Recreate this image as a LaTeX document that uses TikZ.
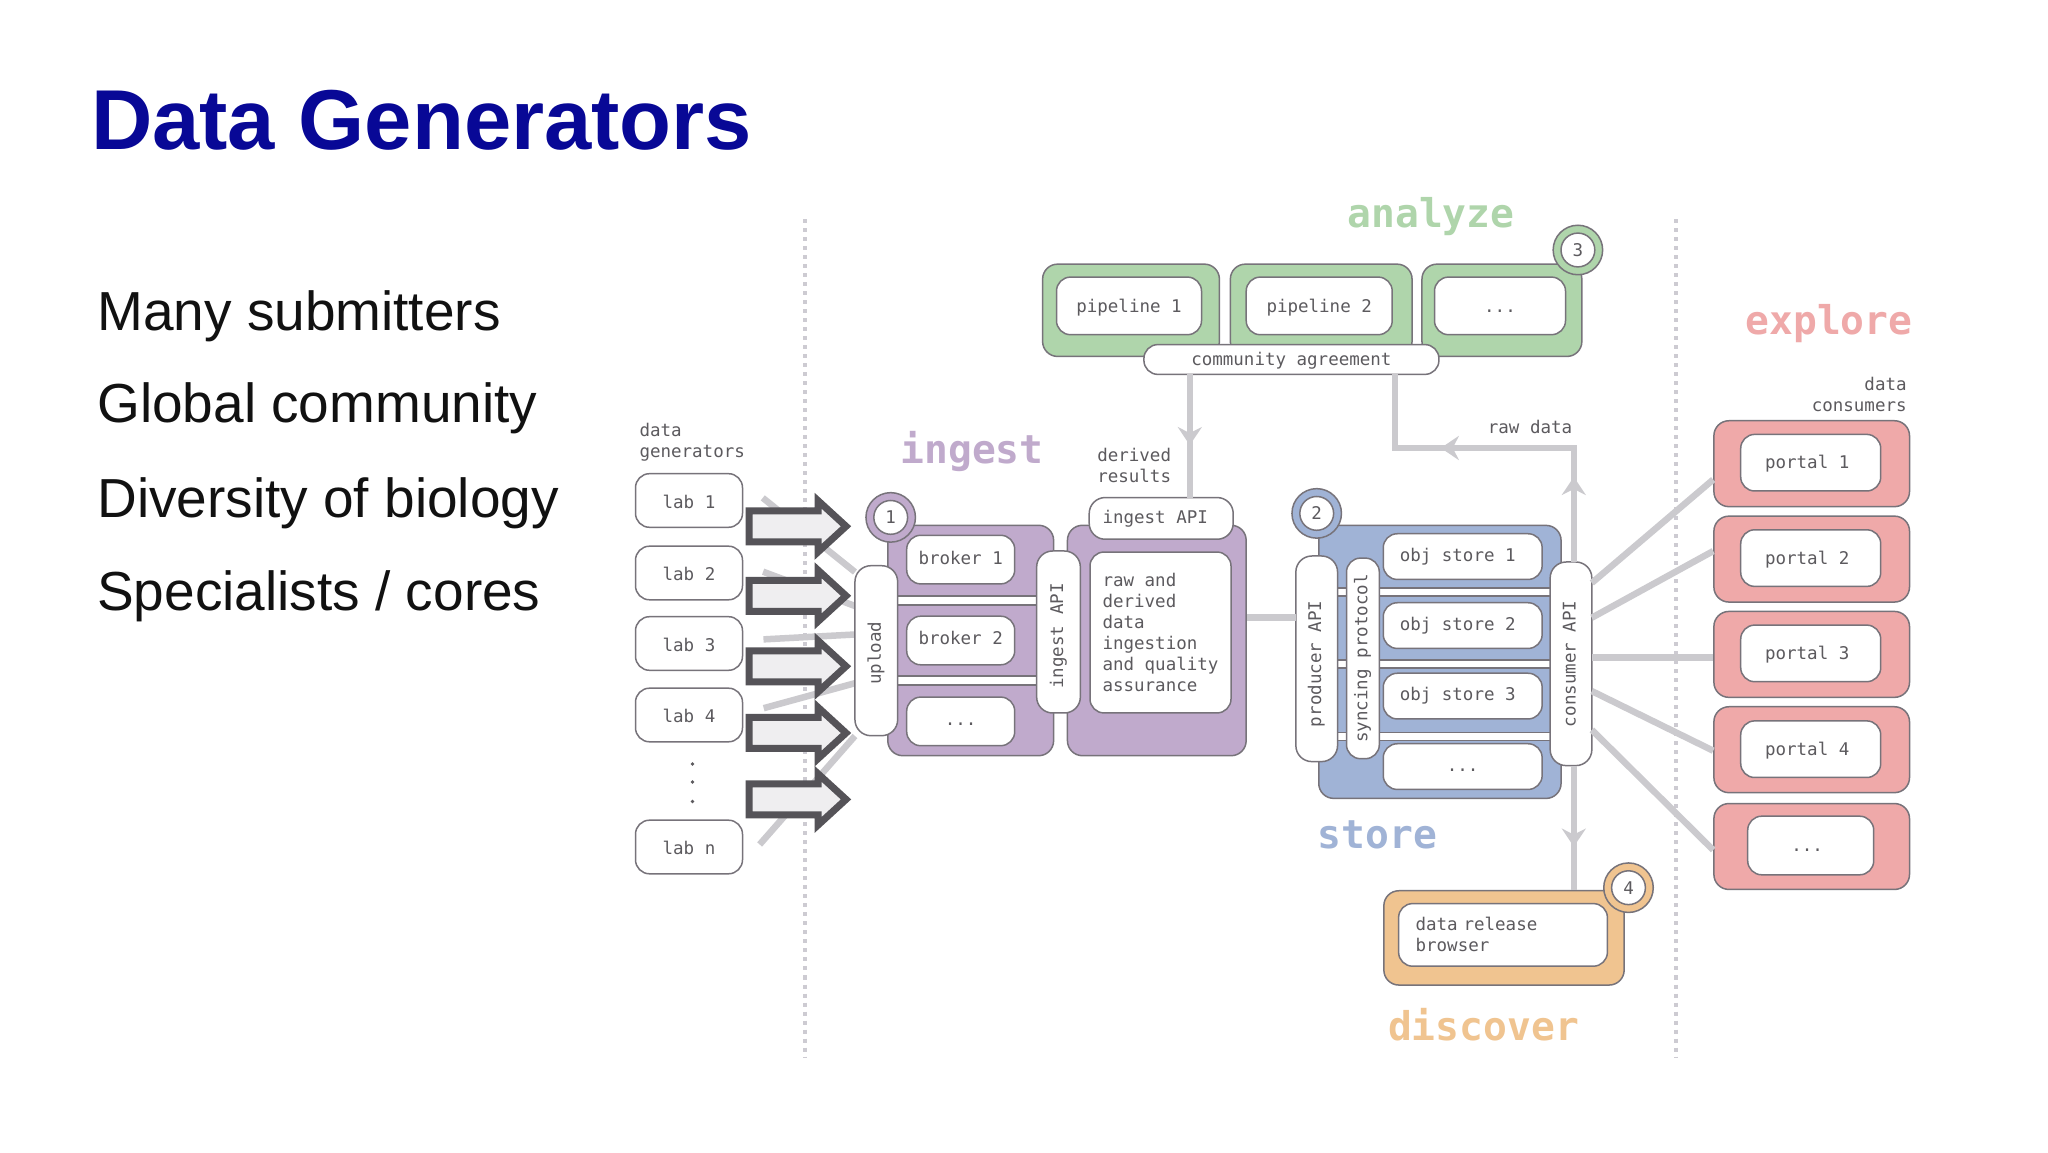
\documentclass[tikz,border=0pt]{standalone}
\usepackage{fontspec}
\setmainfont{Liberation Sans}
\newfontfamily\monofont{DejaVu Sans Mono}
\usetikzlibrary{arrows.meta,decorations.markings,shapes.arrows}
\newcommand{\monoSmall}{\monofont\fontsize{17.5}{21}\selectfont}
\newcommand{\monoBig}{\monofont\bfseries\fontsize{39.6}{44}\selectfont}
\begin{document}
\begin{tikzpicture}[x=1pt,y=1pt,
  guide/.style={draw=guideColor,line width=4pt,dash pattern=on 4pt off 5pt},
  flow/.style={draw=flowColor,line width=6.5pt},
  midtip/.style={postaction={decorate,decoration={markings,mark=at position #1 with {\arrow{Stealth[length=18pt,width=24pt,inset=6pt]}}}}},
  monotext/.style={font=\monoSmall,text=textColor,inner sep=0pt,outer sep=0pt},
  stagetext/.style={font=\monoBig,anchor=base,inner sep=0pt,outer sep=0pt},
  textbox/.style={monotext,draw=edgeColor,fill=white,line width=1.5pt,rounded corners=14pt},
  whitebox/.style={textbox,text height=13pt,text depth=4pt},
  lean/.style={execute at end node={\hspace*{#1}}},
  panel/.style={draw=edgeColor,line width=1.5pt,rounded corners=15pt,inner sep=0pt},
  band/.style={draw=edgeColor,fill=white,line width=1.5pt,inner sep=0pt},
  labbox/.style={whitebox,text height=20pt,minimum width=107pt,minimum height=53.6pt},
  brokerbox/.style={whitebox,minimum width=108pt,minimum height=48.6pt},
  storebox/.style={whitebox,minimum width=158.9pt,minimum height=45.7pt},
  portalpanel/.style={panel,fill=exploreColor,minimum width=195.6pt,minimum height=85.9pt},
  portalbox/.style={whitebox,lean=7pt,text height=16pt,minimum width=140pt,minimum height=56.6pt},
  pipebox/.style={whitebox,text height=17pt,minimum height=57.6pt},
  apibar/.style={whitebox,rotate=90,rounded corners=16pt},
  ring/.style={circle,draw=edgeColor,line width=1.5pt,minimum size=49.5pt,inner sep=0pt},
  ringnumber/.style={circle,draw=edgeColor,fill=white,line width=1.5pt,minimum size=33.8pt,font=\monoSmall,text=textColor,inner sep=0pt},
  bigarrow/.style={single arrow,anchor=tip,draw=arrowColor,fill=arrowFill,line width=7pt,inner sep=12pt,outer sep=0pt,minimum height=97pt,single arrow head extend=10pt,single arrow tip angle=85},
  bodytext/.style={anchor=base west,inner sep=0pt,outer sep=0pt,text=bodyColor,font=\fontsize{55}{60}\selectfont}]
\definecolor{guideColor}{RGB}{205,203,210}
\definecolor{flowColor}{RGB}{203,202,206}
\definecolor{edgeColor}{RGB}{119,115,122}
\definecolor{textColor}{RGB}{92,90,94}
\definecolor{arrowColor}{RGB}{85,83,88}
\definecolor{arrowFill}{RGB}{239,238,240}
\definecolor{titleColor}{RGB}{8,8,150}
\definecolor{bodyColor}{RGB}{17,17,17}
\definecolor{ingestColor}{RGB}{192,170,204}
\definecolor{analyzeColor}{RGB}{175,213,171}
\definecolor{storeColor}{RGB}{160,179,214}
\definecolor{discoverColor}{RGB}{240,196,144}
\definecolor{exploreColor}{RGB}{239,169,169}
\path[use as bounding box,fill=white] (0,0) rectangle (2048,1152);

% slide text
\node[anchor=base west,inner sep=0pt,outer sep=0pt,text=titleColor,font=\bfseries\fontsize{85}{90}\selectfont] (title) at (91,1002) {Data Generators};
\node[bodytext] (point1) at (97.3,821.3) {Many submitters};
\node[bodytext] (point2) at (97.3,729) {Global community};
\node[bodytext] (point3) at (97.3,634.6) {Diversity of biology};
\node[bodytext] (point4) at (97.3,541.3) {Specialists / cores};

% borders of the network
\coordinate (leftTop) at (805,932.5);
\coordinate (leftBottom) at (805,95);
\coordinate (rightTop) at (1676.2,932.5);
\coordinate (rightBottom) at (1676.2,95);
\draw[guide] (leftTop) -- (leftBottom);
\draw[guide] (rightTop) -- (rightBottom);

% data generators
\node[monotext,anchor=west,align=left] (generatorsText) at (639.5,709.6) {data\\generators};
\node[labbox] (lab1) at (689,651.5) {lab 1};
\node[labbox] (lab2) at (689,579) {lab 2};
\node[labbox] (lab3) at (689,508.5) {lab 3};
\node[labbox] (lab4) at (689,437) {lab 4};
\node[labbox] (labn) at (689,305) {lab n};
\fill[textColor] (692.5,388) circle (1.8);
\fill[textColor] (692.5,370) circle (1.8);
\fill[textColor] (692.5,350.5) circle (1.8);

% ingest
\node[draw=none,fill=none,rotate=90,minimum width=170pt,minimum height=42.7pt,inner sep=0pt,outer sep=0pt] (uploadShape) at (876.3,501.3) {};
\draw[flow,shorten <=26pt] (lab1.east |- 0,670.4) -- (uploadShape.north |- 0,580);
\draw[flow,shorten <=22pt] (lab2.east |- 0,588) -- (uploadShape.north |- 0,546);
\draw[flow,shorten <=21pt] (lab3.east |- 0,511.5) -- (uploadShape.north |- 0,517.5);
\draw[flow,shorten <=22pt] (lab4.east |- 0,438) -- (uploadShape.north |- 0,468.8);
\draw[flow,shorten <=26pt] (labn.east |- 0,288) -- (uploadShape.north |- 0,416);
\node[panel,fill=ingestColor,minimum width=165.8pt,minimum height=230.4pt] (brokerPanel) at (970.7,511.5) {};
\node[band,minimum width=165.8pt,minimum height=9pt] (brokerBand1) at (970.7,551.5) {};
\node[band,minimum width=165.8pt,minimum height=9pt] (brokerBand2) at (970.7,471.5) {};
\node[panel,fill=ingestColor,minimum width=178.7pt,minimum height=230.4pt] (qualityPanel) at (1156.8,511.5) {};
\node[ring,fill=ingestColor] (ring1) at (890.7,634.6) {};
\node[ringnumber] (number1) at (890.7,634.6) {1};
\node[apibar,lean=5pt,minimum width=170pt,minimum height=42.7pt] (upload) at (876.3,501.3) {upload};
\node[brokerbox] (broker1) at (960.7,592.4) {broker 1};
\node[brokerbox] (broker2) at (960.7,511.5) {broker 2};
\node[brokerbox] (broker3) at (960.7,430.6) {...};
\node[apibar,lean=8pt,minimum width=162pt,minimum height=43.7pt] (ingestBar) at (1058.5,520) {ingest API};
\node[whitebox,lean=12pt,text height=15pt,minimum width=144pt,minimum height=41.7pt,rounded corners=16pt] (ingestTop) at (1161.2,633.6) {ingest API};
\node[textbox,align=left,minimum width=141pt,minimum height=160.9pt] (qualityBox) at (1160.5,519.5) {raw and\\derived\\data\\ingestion\\and quality\\assurance};
\node[stagetext,text=ingestColor] (ingestTitle) at (972,688.3) {ingest};
\node[monotext,anchor=west,align=left] (derivedText) at (1097.3,686.4) {derived\\results};

% big arrows
\node[bigarrow] (push1) at (846,625.7) {};
\node[bigarrow] (push2) at (846,556.2) {};
\node[bigarrow] (push3) at (846,485.7) {};
\node[bigarrow] (push4) at (846,419) {};
\node[bigarrow] (push5) at (846,352.6) {};

% analyze
\node[panel,fill=analyzeColor,minimum width=176.8pt,minimum height=92.3pt] (pipePanel1) at (1131,841.7) {};
\node[panel,fill=analyzeColor,minimum width=181.7pt,minimum height=92.3pt] (pipePanel2) at (1321.2,841.7) {};
\node[panel,fill=analyzeColor,minimum width=159.9pt,minimum height=92.3pt] (pipePanel3) at (1501.9,841.7) {};
\node[pipebox,minimum width=145pt] (pipeline1) at (1129,846.1) {pipeline 1};
\node[pipebox,minimum width=146pt] (pipeline2) at (1319.2,846.1) {pipeline 2};
\node[pipebox,minimum width=131pt] (pipeline3) at (1500,846.1) {...};
\node[ring,fill=analyzeColor] (ring3) at (1577.9,902) {};
\node[ringnumber] (number3) at (1577.9,902) {3};
\node[whitebox,text height=17pt,minimum width=295pt,minimum height=29.8pt] (agreement) at (1291.4,792.5) {community agreement};
\node[stagetext,text=analyzeColor] (analyzeTitle) at (1431,924.6) {analyze};

% store
\node[panel,fill=storeColor,minimum width=242.3pt,minimum height=273pt] (storePanel) at (1439.9,490.1) {};
\node[band,minimum width=242.3pt,minimum height=8pt] (storeBand1) at (1439.9,560) {};
\node[band,minimum width=242.3pt,minimum height=8pt] (storeBand2) at (1439.9,488) {};
\node[band,minimum width=242.3pt,minimum height=8pt] (storeBand3) at (1439.9,415.5) {};
\node[ring,fill=storeColor] (ring2) at (1316.7,638.6) {};
\node[ringnumber] (number2) at (1316.7,638.6) {2};
\node[storebox,lean=10pt] (store1) at (1462.7,595.4) {obj store 1};
\node[storebox,lean=10pt] (store2) at (1462.7,526.4) {obj store 2};
\node[storebox,lean=10pt] (store3) at (1462.7,455.9) {obj store 3};
\node[storebox] (store4) at (1462.7,385.4) {...};
\node[apibar,lean=10pt,minimum width=205.6pt,minimum height=41.7pt] (producer) at (1316.7,493.2) {producer API};
\node[apibar,minimum width=200.6pt,minimum height=32.8pt,rounded corners=14pt] (syncing) at (1362.9,493.6) {syncing protocol};
\node[apibar,minimum width=203.6pt,minimum height=41.7pt] (consumer) at (1571,488.2) {consumer API};
\node[stagetext,text=storeColor] (storeTitle) at (1377.3,303) {store};

% discover
\node[panel,fill=discoverColor,minimum width=240.3pt,minimum height=94.3pt] (releasePanel) at (1504,214.1) {};
\node[textbox,text width=174.8pt,inner xsep=17pt,align=left,minimum height=62.6pt] (releaseBox) at (1503,217.1) {data release\\browser};
\node[ring,fill=discoverColor] (ring4) at (1628.5,264.3) {};
\node[ringnumber] (number4) at (1628.5,264.3) {4};
\node[stagetext,text=discoverColor] (discoverTitle) at (1483.5,111.3) {discover};

% explore
\node[portalpanel] (portalPanel1) at (1811.7,688.3) {};
\node[portalpanel] (portalPanel2) at (1811.7,592.9) {};
\node[portalpanel] (portalPanel3) at (1811.7,497.6) {};
\node[portalpanel] (portalPanel4) at (1811.7,402.3) {};
\node[portalpanel] (portalPanel5) at (1811.7,305.5) {};
\node[portalbox] (portal1) at (1810.7,689.3) {portal 1};
\node[portalbox] (portal2) at (1810.7,593.9) {portal 2};
\node[portalbox] (portal3) at (1810.7,498.6) {portal 3};
\node[portalbox] (portal4) at (1810.7,402.8) {portal 4};
\node[portalbox,minimum width=126pt,minimum height=58.6pt] (portal5) at (1810.7,306.5) {...};
\node[monotext,anchor=east,align=right] (consumersText) at (1906.6,757.3) {data\\consumers};
\node[stagetext,text=exploreColor] (exploreTitle) at (1829,817.3) {explore};

% lines between the stages
\coordinate (handoff) at (1271,534.3);
\coordinate (derivedDrop) at (1189.8,700);
\coordinate (rawDrop) at (1394.9,600);
\coordinate (rawTurn) at (1573.8,704);
\coordinate (releaseDrop) at (1573.8,320);
\node[monotext] (rawText) at (1530,725) {raw data};
\draw[flow,midtip=0.574] (agreement.south -| derivedDrop) -- (ingestTop.north -| derivedDrop);
\draw[flow,midtip=85pt,midtip=247pt] (rawTurn |- consumer.east) -- (rawTurn) -- (rawDrop |- rawTurn) -- (rawDrop |- agreement.south);
\draw[flow,midtip=81pt] (rawTurn |- consumer.west) -- (releaseDrop |- releasePanel.north);
\draw[flow] (qualityPanel.east |- handoff) -- (producer.north |- handoff);
\draw[flow] (consumer.south |- 0,569.1) -- (portalPanel1.west |- 0,672.4);
\draw[flow] (consumer.south |- 0,534.3) -- (portalPanel2.west |- 0,600.9);
\draw[flow] (consumer.south |- 0,494.6) -- (portalPanel3.west |- 0,494.6);
\draw[flow] (consumer.south |- 0,460.9) -- (portalPanel4.west |- 0,401.3);
\draw[flow] (consumer.south |- 0,422.1) -- (portalPanel5.west |- 0,302);
\end{tikzpicture}
\end{document}
